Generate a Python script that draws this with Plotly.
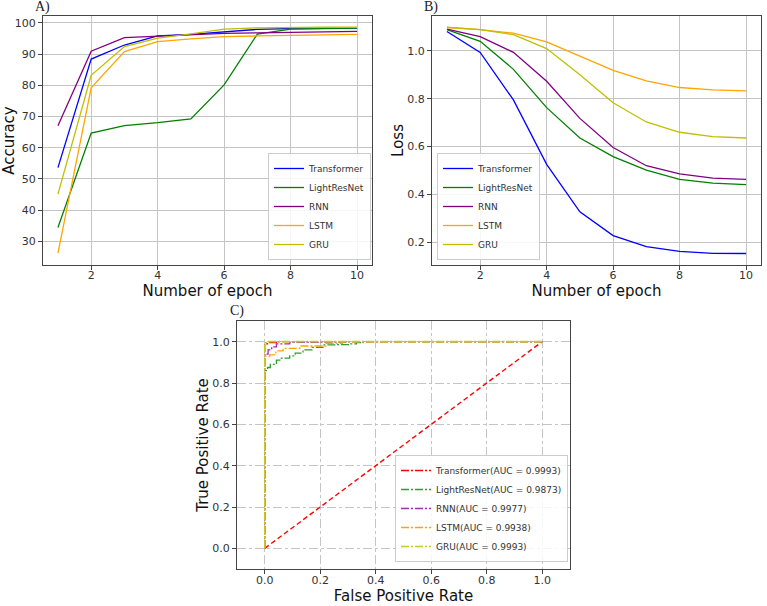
import plotly.graph_objects as go

W, H = 767, 606

epochs = [1, 2, 3, 4, 5, 6, 7, 8, 9, 10]
models = ["Transformer", "LightResNet", "RNN", "LSTM", "GRU"]
line_colors = ["#0000ff", "#008000", "#800080", "#ffa500", "#bfbf00"]

acc_transformer = [53.6, 88.4, 92.9, 95.8, 96.3, 97.2, 97.9, 98.2, 98.3, 98.3]
acc_lightresnet = [34.4, 64.7, 67.1, 68.0, 69.2, 80.1, 96.4, 98.0, 98.2, 98.3]
acc_rnn = [67.0, 90.9, 95.3, 95.8, 96.2, 96.6, 96.8, 97.0, 97.2, 97.3]
acc_lstm = [26.2, 79.2, 90.8, 94.0, 94.9, 95.6, 95.8, 96.0, 96.2, 96.3]
acc_gru = [45.1, 83.2, 92.4, 95.1, 96.5, 98.0, 98.4, 98.6, 98.6, 98.6]

loss_transformer = [1.081, 0.994, 0.795, 0.526, 0.327, 0.228, 0.182, 0.162, 0.154, 0.153]
loss_lightresnet = [1.089, 1.040, 0.923, 0.763, 0.636, 0.558, 0.502, 0.463, 0.447, 0.441]
loss_rnn = [1.091, 1.060, 0.994, 0.873, 0.718, 0.596, 0.520, 0.486, 0.468, 0.463]
loss_lstm = [1.098, 1.089, 1.074, 1.038, 0.978, 0.919, 0.875, 0.847, 0.837, 0.833]
loss_gru = [1.099, 1.089, 1.068, 1.010, 0.900, 0.783, 0.703, 0.660, 0.642, 0.636]

roc_labels = ["Transformer(AUC = 0.9993)", "LightResNet(AUC = 0.9873)",
              "RNN(AUC = 0.9977)", "LSTM(AUC = 0.9938)", "GRU(AUC = 0.9993)"]
roc_colors = ["#ff0000", "#2ca02c", "#9b30b0", "#ffa500", "#c8c820"]
fpr_transformer = [0.0, 0.0, 0.005, 0.015, 0.05, 1.0]
tpr_transformer = [0.0, 0.985, 0.99, 0.995, 1.0, 1.0]
fpr_lightresnet = [0.0, 0.0, 0.01, 0.02, 0.042, 0.06, 0.09, 0.11, 0.138, 0.17, 0.21, 0.26, 0.31, 0.33, 0.355, 1.0]
tpr_lightresnet = [0.0, 0.86, 0.875, 0.89, 0.911, 0.92, 0.931, 0.945, 0.96, 0.972, 0.984, 0.986, 0.989, 0.995, 1.0, 1.0]
fpr_rnn = [0.0, 0.0, 0.012, 0.025, 0.042, 0.09, 0.2, 0.3, 1.0]
tpr_rnn = [0.0, 0.94, 0.96, 0.975, 0.989, 0.997, 0.998, 1.0, 1.0]
fpr_lstm = [0.0, 0.0, 0.018, 0.04, 0.066, 0.126, 0.22, 0.28, 1.0]
tpr_lstm = [0.0, 0.93, 0.936, 0.955, 0.968, 0.979, 0.992, 1.0, 1.0]
fpr_gru = [0.0, 0.0, 0.004, 0.01, 1.0]
tpr_gru = [0.0, 0.99, 0.995, 1.0, 1.0]
diag = [0.0, 1.0]

acc = [acc_transformer, acc_lightresnet, acc_rnn, acc_lstm, acc_gru]
loss = [loss_transformer, loss_lightresnet, loss_rnn, loss_lstm, loss_gru]
fprs = [fpr_transformer, fpr_lightresnet, fpr_rnn, fpr_lstm, fpr_gru]
tprs = [tpr_transformer, tpr_lightresnet, tpr_rnn, tpr_lstm, tpr_gru]

fig = go.Figure()
for name, c, y in zip(models, line_colors, acc):
    fig.add_trace(go.Scatter(x=epochs, y=y, mode="lines", name=name,
                             line=dict(color=c, width=1.3), xaxis="x", yaxis="y",
                             legend="legend"))
for name, c, y in zip(models, line_colors, loss):
    fig.add_trace(go.Scatter(x=epochs, y=y, mode="lines", name=name,
                             line=dict(color=c, width=1.3), xaxis="x2", yaxis="y2",
                             legend="legend2"))
fig.add_trace(go.Scatter(x=diag, y=diag, mode="lines", showlegend=False,
                         line=dict(color="#ff0000", width=1.4, dash="5px,3px"),
                         xaxis="x3", yaxis="y3"))
for i in range(5):
    fig.add_trace(go.Scatter(x=fprs[i], y=tprs[i], mode="lines", name=roc_labels[i],
                             line=dict(color=roc_colors[i], width=1.6 if i == 4 else 1.3,
                                       dash="8px,2px,2px,2px", shape="hv"),
                             xaxis="x3", yaxis="y3", legend="legend3"))

tickfont = dict(family="DejaVu Sans", size=11, color="#333333")
titlefont = dict(family="DejaVu Sans", size=15, color="#111111")
common = dict(showline=True, linecolor="#444444", linewidth=1, mirror=True,
              ticks="outside", ticklen=4, tickcolor="#444444", tickfont=tickfont,
              showgrid=True, gridcolor="#c4c4c4", gridwidth=1, zeroline=False)

def px_x(v):
    return v / W

def px_y(v):
    return 1 - v / H

legend_style = dict(font=dict(family="DejaVu Sans", size=9, color="#333333"),
                    bgcolor="rgba(255,255,255,0.85)", bordercolor="#cccccc", borderwidth=1,
                    itemwidth=30, tracegroupgap=0)

fig.update_layout(
    width=W, height=H, margin=dict(l=0, r=0, t=0, b=0),
    paper_bgcolor="white", plot_bgcolor="white",
    xaxis=dict(domain=[px_x(43), px_x(372)], range=[0.55, 10.45], tickvals=[2, 4, 6, 8, 10],
               anchor="y", ticklabelstandoff=-4,
               title=dict(text="Number of epoch", font=titlefont, standoff=3), **common),
    yaxis=dict(domain=[px_y(265), px_y(16)], range=[22.4, 102.2], tickvals=[30, 40, 50, 60, 70, 80, 90, 100],
               anchor="x", title=dict(text="Accuracy", font=titlefont, standoff=0), **common),
    xaxis2=dict(domain=[px_x(432), px_x(761)], range=[0.55, 10.45], tickvals=[2, 4, 6, 8, 10],
                anchor="y2", ticklabelstandoff=-4,
                title=dict(text="Number of epoch", font=titlefont, standoff=3), **common),
    yaxis2=dict(domain=[px_y(265), px_y(16)], range=[0.105, 1.146], tickvals=[0.2, 0.4, 0.6, 0.8, 1.0],
                tickformat=".1f", anchor="x2", title=dict(text="Loss", font=titlefont, standoff=0), **common),
    xaxis3=dict(domain=[px_x(237), px_x(570)], range=[-0.1, 1.1], tickvals=[0, 0.2, 0.4, 0.6, 0.8, 1.0],
                tickformat=".1f", anchor="y3", griddash="dashdot", ticklabelstandoff=-3,
                title=dict(text="False Positive Rate", font=titlefont, standoff=2), **common),
    yaxis3=dict(domain=[px_y(569), px_y(321)], range=[-0.1, 1.1], tickvals=[0, 0.2, 0.4, 0.6, 0.8, 1.0],
                tickformat=".1f", anchor="x3", griddash="dashdot",
                title=dict(text="True Positive Rate", font=titlefont, standoff=0), **common),
    legend=dict(x=px_x(371), y=px_y(260), xanchor="right", yanchor="bottom", **legend_style),
    legend2=dict(x=px_x(437), y=px_y(260), xanchor="left", yanchor="bottom", **legend_style),
    legend3=dict(x=px_x(568), y=px_y(562), xanchor="right", yanchor="bottom", **legend_style),
    showlegend=True,
)

label_font = dict(family="Liberation Serif", size=14, color="#222222")
for txt, x, y in [("A)", 33, 7), ("B)", 422, 7), ("C)", 228, 311)]:
    fig.add_annotation(text=txt, x=px_x(x), y=px_y(y), xref="paper", yref="paper",
                       xanchor="left", yanchor="middle", showarrow=False, font=label_font)

fig.write_html("out.html")
